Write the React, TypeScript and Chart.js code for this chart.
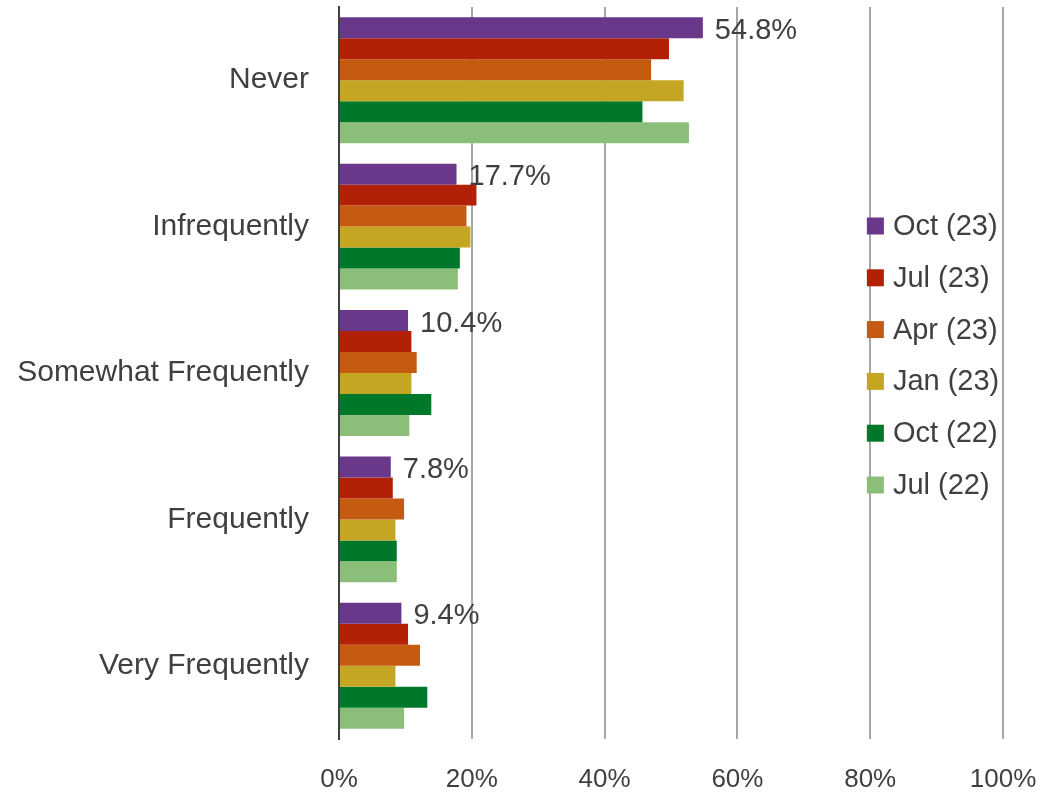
import React, { useEffect, useRef } from "react";
import { Chart, registerables } from "chart.js";

Chart.register(...registerables);

const categories = ["Never", "Infrequently", "Somewhat Frequently", "Frequently", "Very Frequently"];
const seriesNames = ["Oct (23)", "Jul (23)", "Apr (23)", "Jan (23)", "Oct (22)", "Jul (22)"];
const seriesColors = ["#69388A", "#B22006", "#C55A11", "#C4A622", "#00782A", "#8BBE78"];
const oct23 = [54.8, 17.7, 10.4, 7.8, 9.4];
const jul23 = [49.7, 20.7, 10.9, 8.1, 10.4];
const apr23 = [47.0, 19.2, 11.7, 9.8, 12.2];
const jan23 = [51.9, 19.8, 10.9, 8.5, 8.5];
const oct22 = [45.7, 18.2, 13.9, 8.7, 13.3];
const jul22 = [52.7, 17.9, 10.6, 8.7, 9.8];
const xTicks = [0, 20, 40, 60, 80, 100];

const FONT = "'Liberation Sans', Arial, sans-serif";
const TEXT = "#404040";

const labelPlugin = {
  id: "labelPlugin",
  afterDatasetsDraw(chart: any) {
    const ctx = chart.ctx;
    const meta = chart.getDatasetMeta(0);
    ctx.save();
    ctx.font = `29px ${FONT}`;
    ctx.fillStyle = TEXT;
    ctx.textAlign = "left";
    ctx.textBaseline = "middle";
    meta.data.forEach((el: any, i: number) => {
      const v = chart.data.datasets[0].data[i];
      ctx.fillText(v.toFixed(1) + "%", el.x + 12, el.y + 3);
    });
    ctx.restore();
  },
};

const legendPlugin = {
  id: "customLegend",
  afterDraw(chart: any) {
    const ctx = chart.ctx;
    const area = chart.chartArea;
    const x0 = area.left + (area.right - area.left) * 0.795;
    const y0 = area.top + 219;
    const step = 51.8;
    ctx.save();
    ctx.font = `29px ${FONT}`;
    ctx.textAlign = "left";
    ctx.textBaseline = "middle";
    chart.data.datasets.forEach((ds: any, i: number) => {
      const y = y0 + i * step;
      ctx.fillStyle = ds.backgroundColor;
      ctx.fillRect(x0, y - 8.5, 17, 17);
      ctx.fillStyle = TEXT;
      ctx.fillText(ds.label, x0 + 26, y + 1);
    });
    ctx.restore();
  },
};

export default function App() {
  const ref = useRef<HTMLCanvasElement>(null);
  useEffect(() => {
    if (!ref.current) return;
    const allData = [oct23, jul23, apr23, jan23, oct22, jul22];
    const chart = new Chart(ref.current, {
      type: "bar",
      data: {
        labels: categories,
        datasets: seriesNames.map((name, i) => ({
          label: name,
          data: allData[i],
          backgroundColor: seriesColors[i],
          borderWidth: 0,
          categoryPercentage: 0.86,
          barPercentage: 1.0,
        })),
      },
      options: {
        indexAxis: "y",
        responsive: false,
        animation: false,
        layout: { padding: { top: 7, right: 47, left: 0, bottom: 0 } },
        plugins: {
          legend: { display: false },
          tooltip: { enabled: false },
        },
        scales: {
          x: {
            min: 0,
            max: 100,
            afterBuildTicks(scale: any) {
              scale.ticks = xTicks.map((v) => ({ value: v }));
            },
            afterFit(scale: any) {
              scale.height = 56;
              scale.paddingLeft = 0;
              scale.paddingRight = 0;
            },
            grid: {
              color: (c: any) => (c.tick && c.tick.value === 0 ? "rgba(0,0,0,0)" : "#A6A6A6"),
              lineWidth: 2,
              drawTicks: false,
            },
            border: { display: false },
            ticks: {
              padding: 25,
              color: TEXT,
              font: { family: FONT, size: 26 },
              callback: (v: any) => v + "%",
              maxRotation: 0,
            },
          },
          y: {
            afterFit(scale: any) {
              scale.width = 339;
              scale.paddingTop = 0;
              scale.paddingBottom = 0;
            },
            grid: { display: false, drawTicks: false },
            border: { display: true, color: "#404040", width: 2 },
            ticks: {
              padding: 30,
              color: TEXT,
              font: { family: FONT, size: 30 },
            },
          },
        },
      },
      plugins: [labelPlugin, legendPlugin],
    });
    return () => chart.destroy();
  }, []);
  return (
    <div style={{ position: "fixed", left: 0, top: 0, width: 1050, height: 795, background: "#fff" }}>
      <canvas ref={ref} width={1050} height={795} />
    </div>
  );
}
